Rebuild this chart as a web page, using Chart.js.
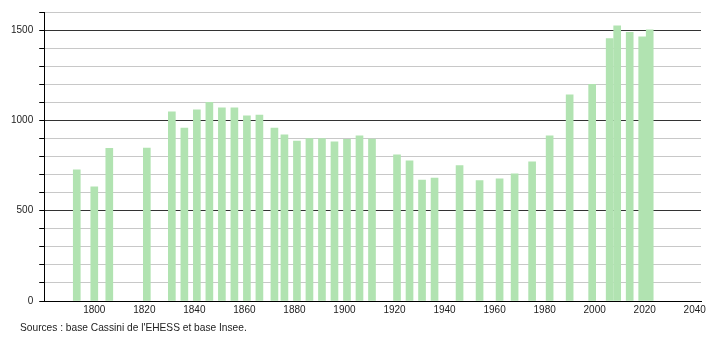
<!DOCTYPE html>
<html>
<head>
<meta charset="utf-8">
<script src="https://cdn.jsdelivr.net/npm/chart.js@4/dist/chart.umd.min.js"></script>
<style>
    html, body { margin: 0; padding: 0; background: #fff; }
    #wrap { position: relative; width: 710px; height: 340px; }
    #source {
        position: absolute;
        left: 20px;
        top: 322px;
        font: 10.2px "Liberation Sans", Arial, sans-serif;
        color: #222;
        white-space: nowrap;
    }
</style>
</head>
<body>
<div id="wrap">
    <canvas id="chart" width="710" height="340"></canvas>
    <div id="source">Sources : base Cassini de l'EHESS et base Insee.</div>
</div>
<script>
// Census years and population
const years = [1793, 1800, 1806, 1821, 1831, 1836, 1841, 1846, 1851, 1856, 1861, 1866,
    1872, 1876, 1881, 1886, 1891, 1896, 1901, 1906, 1911, 1921, 1926, 1931, 1936,
    1946, 1954, 1962, 1968, 1975, 1982, 1990, 1999, 2006, 2009, 2014, 2019, 2022];
const population = [726, 632, 845, 846, 1048, 958, 1058, 1100, 1070, 1069, 1025, 1030,
    958, 920, 886, 899, 899, 881, 895, 914, 897, 809, 776, 670, 681,
    750, 667, 676, 704, 770, 914, 1141, 1199, 1453, 1524, 1487, 1463, 1501];

const xTicks = [1800, 1820, 1840, 1860, 1880, 1900, 1920, 1940, 1960, 1980, 2000, 2020, 2040];
const yLabels = [0, 500, 1000, 1500];

const font = { family: '"Liberation Sans", Arial, sans-serif', size: 10 };

new Chart(document.getElementById("chart"), {
    type: "bar",
    data: {
        datasets: [
            {
                label: "Population",
                data: years.map((y, i) => ({ x: y, y: population[i] })),
                backgroundColor: "#b1e3b1",
                borderWidth: 0,
                barThickness: 7,
            },
        ],
    },
    options: {
        responsive: false,
        devicePixelRatio: 1,
        animation: false,
        layout: { padding: { left: 5, right: 9, top: 5, bottom: 21 } },
        plugins: {
            legend: { display: false },
            tooltip: { enabled: false },
        },
        scales: {
            x: {
                type: "linear",
                min: 1780,
                max: 2042.5,
                offset: false,
                afterBuildTicks: (axis) => {
                    axis.ticks = xTicks.map((v) => ({ value: v }));
                },
                grid: { display: false, drawTicks: false },
                border: { color: "#000", width: 1 },
                ticks: {
                    color: "#222",
                    font: font,
                    padding: 3,
                    maxRotation: 0,
                    autoSkip: false,
                    callback: (v) => String(v),
                },
            },
            y: {
                min: 0,
                max: 1600,
                grid: {
                    color: (c) => (c.tick && c.tick.value % 500 === 0 ? "#333" : "#c8c8c8"),
                    tickColor: "#000",
                    tickLength: 5,
                },
                border: { color: "#000", width: 1 },
                ticks: {
                    stepSize: 100,
                    color: "#222",
                    font: font,
                    padding: 6,
                    autoSkip: false,
                    callback: (v) => (yLabels.includes(v) ? String(v) : ""),
                },
            },
        },
    },
});
</script>
</body>
</html>
